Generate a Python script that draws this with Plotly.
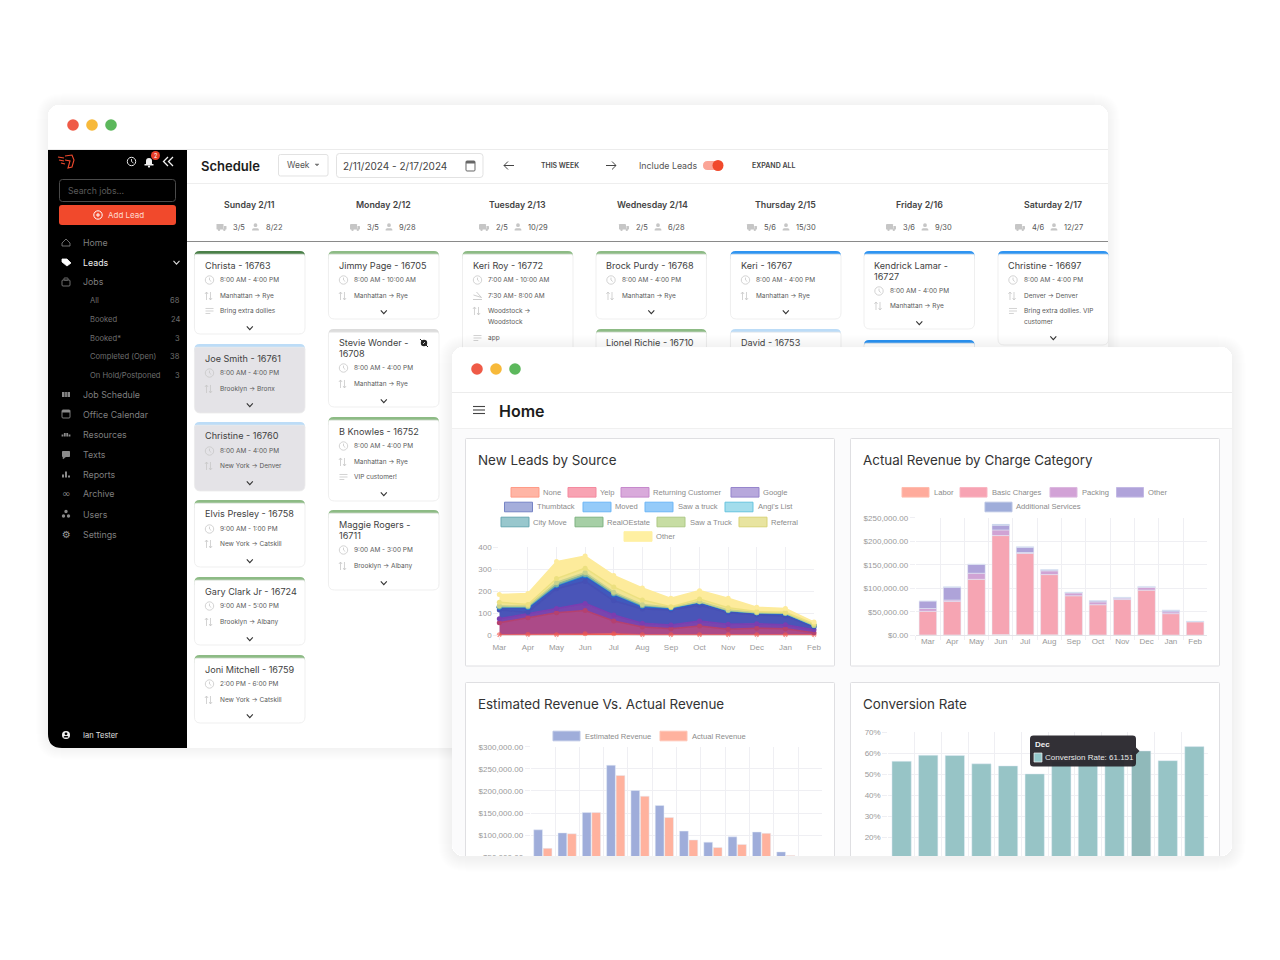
import numpy as np
import plotly.graph_objects as go

W, H = 1280, 960
UI = "Inter"
CH = "Liberation Sans"

months = ["Mar", "Apr", "May", "Jun", "Jul", "Aug", "Sep", "Oct", "Nov", "Dec", "Jan", "Feb"]

# New Leads by Source
lead_none = [2, 4, 3, 7, 7, 3, 2, 3, 2, 2, 2, 2]
lead_yelp = [55, 76, 100, 106, 58, 35, 28, 39, 26, 30, 28, 10]
lead_returning = [18, 20, 19, 32, 27, 17, 17, 23, 22, 20, 18, 13]
lead_google = [40, 5, 90, 100, 65, 65, 68, 72, 52, 40, 40, 13]
lead_thumbtack = [10, 20, 13, 23, 28, 10, 7, 11, 8, 8, 9, 4]
lead_moved = [2, 2, 2, 3, 2, 2, 1, 2, 1, 1, 1, 1]
lead_saw_truck = [1, 1, 1, 2, 1, 1, 1, 1, 1, 1, 1, 1]
lead_angis = [1, 1, 1, 2, 1, 1, 1, 1, 1, 1, 1, 1]
lead_city = [1, 1, 1, 1, 1, 1, 1, 0, 0, 0, 0, 0]
lead_realo = [1, 1, 2, 1, 1, 1, 0, 0, 0, 0, 0, 0]
lead_saw_truck2 = [3, 2, 8, 8, 5, 4, 1, 2, 2, 1, 1, 1]
lead_referral = [16, 7, 18, 20, 24, 20, 3, 11, 10, 4, 4, 6]
lead_other = [35, 50, 77, 55, 52, 55, 38, 38, 43, 20, 17, 8]

# Actual Revenue by Charge Category
rev_labor = [800, 900, 1000, 1500, 1200, 1000, 800, 700, 700, 800, 600, 400]
rev_basic = [50200, 71100, 118000, 210500, 172800, 128000, 83200, 64300, 75300, 95200, 45400, 28600]
rev_packing = [6000, 3000, 13000, 12000, 2000, 8000, 6000, 6000, 3000, 6000, 4000, 0]
rev_other = [16000, 27000, 19000, 10000, 11000, 2000, 1000, 2000, 1000, 1000, 3000, 0]
rev_additional = [0, 1000, 0, 2000, 1000, 1000, 1000, 1000, 1000, 1000, 1000, 1000]

# Estimated vs Actual Revenue
est_revenue = [112000, 105000, 151000, 258000, 201000, 167000, 109000, 84000, 96000, 107000, 62000, 40000]
act_revenue = [70000, 103000, 151000, 235000, 188000, 140000, 89000, 72000, 79000, 104000, 54000, 30000]

# Conversion Rate
conversion = [56.2, 59.1, 59.0, 55.0, 54.0, 50.2, 56.0, 58.0, 61.5, 61.151, 56.5, 63.2]

shapes = []
notes = []


def px(x):
    return x / W


def py(y):
    return 1 - y / H


def pt(x, y):
    return f"{px(x):.5f},{py(y):.5f}"


def rr(x0, y0, x1, y1, r):
    # rounded rectangle path, r = (tl, tr, br, bl) or single radius
    tl, tr, br, bl = r if isinstance(r, tuple) else (r, r, r, r)
    return (f"M{pt(x0 + tl, y0)} L{pt(x1 - tr, y0)} Q{pt(x1, y0)} {pt(x1, y0 + tr)} "
            f"L{pt(x1, y1 - br)} Q{pt(x1, y1)} {pt(x1 - br, y1)} "
            f"L{pt(x0 + bl, y1)} Q{pt(x0, y1)} {pt(x0, y1 - bl)} "
            f"L{pt(x0, y0 + tl)} Q{pt(x0, y0)} {pt(x0 + tl, y0)} Z")


def add_path(d, fill="rgba(0,0,0,0)", line=None, lw=1, layer="below", rule=None):
    s = dict(type="path", path=d, xref="paper", yref="paper", fillcolor=fill, layer=layer,
             line=dict(color=line or "rgba(0,0,0,0)", width=lw if line else 0))
    if rule:
        s["fillrule"] = rule
    shapes.append(s)


def box(x0, y0, x1, y1, r=0, fill="#ffffff", line=None, lw=1, layer="below"):
    add_path(rr(x0, y0, x1, y1, r), fill, line, lw, layer)


def poly(points, line="#333333", lw=1, fill="rgba(0,0,0,0)", close=False, layer="below"):
    d = "M" + " L".join(pt(a, b) for a, b in points) + (" Z" if close else "")
    add_path(d, fill, line, lw, layer)


def dot(x, y, r, fill="#ffffff", line=None, lw=1, layer="below"):
    shapes.append(dict(type="circle", xref="paper", yref="paper", layer=layer,
                       x0=px(x - r), x1=px(x + r), y0=py(y + r), y1=py(y - r), fillcolor=fill,
                       line=dict(color=line or "rgba(0,0,0,0)", width=lw if line else 0)))


def txt(x, y, s, size=8, color="#555555", anchor="left", weight=None, family=UI):
    notes.append(dict(x=px(x), y=py(y), xref="paper", yref="paper", text=s, showarrow=False,
                      xanchor=anchor, yanchor="middle", borderpad=0,
                      font=dict(size=size, color=color, family=family, weight=weight)))


def shadow(x0, y0, x1, y1, r, n, alpha, dy, layer):
    for k in range(1, n + 1):
        d = rr(x0 - k, y0 - k + dy, x1 + k, y1 + k + dy, r + k) + " " + rr(x0, y0, x1, y1, r)
        add_path(d, f"rgba(30,30,60,{alpha})", layer=layer, rule="evenodd")


# ---- icons
def clock(x, y):
    dot(x, y, 4.2, "rgba(0,0,0,0)", "#c8c8c8", 0.8)
    poly([(x, y - 2.4), (x, y), (x + 1.8, y + 1.6)], "#c8c8c8", 0.8)


def route(x, y):
    poly([(x - 3, y + 4), (x - 3, y - 4), (x - 4.6, y - 2)], "#c8c8c8", 0.8)
    poly([(x - 3, y - 4), (x - 1.4, y - 2)], "#c8c8c8", 0.8)
    poly([(x + 1, y - 4), (x + 1, y + 4), (x - 0.4, y + 2)], "#c8c8c8", 0.8)
    poly([(x + 1, y + 4), (x + 2.6, y + 2)], "#c8c8c8", 0.8)


def note_icon(x, y):
    for d, w in ((-2.5, 4), (0, 4), (2.5, 2.4)):
        poly([(x - 4, y + d), (x - 4 + 2 * w, y + d)], "#c8c8c8", 0.8)


def plane(x, y):
    poly([(x - 4.5, y + 3.5), (x + 4.5, y + 3.5)], "#c0c0c0", 0.8)
    poly([(x - 4, y - 1), (x + 4, y + 1.5), (x - 1, y - 4)], "#c0c0c0", 0.8)


def chevron(x, y, color="#333333"):
    poly([(x - 3, y - 1.6), (x, y + 1.6), (x + 3, y - 1.6)], color, 1.1)


def truck(x, y):
    box(x - 5, y - 3, x + 2, y + 2.4, 0.5, "#c6c6c6")
    box(x + 2.4, y - 1, x + 5, y + 2.4, 0.5, "#c6c6c6")
    dot(x - 2.5, y + 2.8, 1.2, "#c6c6c6")
    dot(x + 2.8, y + 2.8, 1.2, "#c6c6c6")


def person(x, y):
    dot(x, y - 1.8, 1.9, "#c6c6c6")
    box(x - 3.4, y + 1.2, x + 3.4, y + 3.6, (1.6, 1.6, 0, 0), "#c6c6c6")


# ---- page windows
shadow(48, 105, 1108, 748, 14, 12, 0.004, 0, "below")
box(48, 105, 1108, 748, 14, "#ffffff")
dot(73, 125, 5.8, "#ef5a47")
dot(92, 125, 5.8, "#f7b93a")
dot(111, 125, 5.8, "#5cb85c")
box(48, 149, 1108, 150, 0, "#ececec")

# ---- sidebar
box(48, 150, 187, 748, (0, 0, 0, 14), "#000000")
poly([(58, 157), (64, 158)], "#f04a2e", 1.2)
poly([(59, 160), (64, 161)], "#f04a2e", 1.2)
poly([(61, 163), (65, 164)], "#f04a2e", 1.2)
poly([(65, 156), (72, 155), (74, 160), (72, 167), (68, 168), (70, 161), (65, 160)], "#f04a2e", 1.1)
dot(131.5, 161.5, 4.2, "#000000", "#e8e8e8", 1)
poly([(131.5, 159), (131.5, 161.5), (133.5, 163)], "#e8e8e8", 0.9)
box(146, 158, 152, 165, (3, 3, 0, 0), "#f0f0f0")
box(144.5, 164, 153.5, 165.5, 0, "#f0f0f0")
dot(149, 166.6, 1.1, "#f0f0f0")
dot(155.5, 155.5, 4.5, "#e8402a")
txt(155.5, 155.5, "2", 5.5, "#ffffff", "center")
poly([(168, 157), (163.5, 161.5), (168, 166)], "#f2f2f2", 1.3)
poly([(173, 157), (168.5, 161.5), (173, 166)], "#f2f2f2", 1.3)

box(59.5, 179.5, 175.5, 201.5, 3, "#000000", "#4a4a4a", 1)
txt(66.5, 190.5, "Search jobs...", 8.7, "#5a5a5a")
box(59, 205, 176, 225, 3, "#f1492c")
dot(98, 215, 4.2, "rgba(0,0,0,0)", "#ffffff", 1)
poly([(96, 215), (100, 215)], "#ffffff", 1)
poly([(98, 213), (98, 217)], "#ffffff", 1)
txt(107, 215.3, "Add Lead", 8, "#ffd9d0")

side_items = ["Home", "Leads", "Jobs", "Job Schedule", "Office Calendar", "Resources", "Texts",
              "Reports", "Archive", "Users", "Settings"]
side_y = [242, 262, 282, 394, 414, 434, 454, 474, 494, 514, 534]
for name, y in zip(side_items, side_y):
    txt(81.7, y, name, 8.8, "#f0f0f0" if name == "Leads" else "#7f7f7f")
chevron(176.5, 262.5, "#dddddd")

sub_items = ["All", "Booked", "Booked*", "Completed (Open)", "On Hold/Postponed"]
sub_counts = ["68", "24", "3", "38", "3"]
sub_y = [301, 320, 338, 356, 375]
for name, cnt, y in zip(sub_items, sub_counts, sub_y):
    txt(89, y, name, 7.6, "#6f6f6f")
    txt(181, y, cnt, 7.5, "#6f6f6f", "right")

icon = "#8a8a8a"
poly([(62, 243), (66, 239), (70, 243), (70, 246), (62, 246)], icon, 0.8, close=True)
poly([(62, 259), (67, 259), (71, 263), (67, 266), (62, 262)], "#ffffff", 0.8, "#ffffff", close=True)
box(62, 280, 70, 286, 1, "#000000", icon, 0.8)
box(64, 278, 68, 280, 0.5, "#000000", icon, 0.8)
box(62, 392, 70, 397, 0, "#8a8a8a")
poly([(64.7, 392), (64.7, 397)], "#000000", 0.6)
poly([(67.3, 392), (67.3, 397)], "#000000", 0.6)
box(62, 410, 70, 418, 1, "#000000", icon, 0.9)
box(62, 410, 70, 412.5, 0.5, "#8a8a8a")
for cx, h in ((62.5, 2), (64.8, 3.5), (67.2, 3.5), (69.5, 2)):
    box(cx - 0.9, 436.5 - h, cx + 0.9, 436.5, 0, "#8a8a8a")
box(62, 451, 70, 457, 0.8, "#8a8a8a")
poly([(63, 457), (63, 459), (65.5, 457)], "#8a8a8a", 0.5, "#8a8a8a", close=True)
for cx, h in ((63, 3), (66, 6), (69, 2)):
    box(cx - 1, 477.5 - h, cx + 1, 477.5, 0, "#8a8a8a")
txt(66, 494, "∞", 10, icon, "center", family="DejaVu Sans")
dot(66, 511.5, 1.7, "#8a8a8a")
dot(63.5, 516, 1.7, "#8a8a8a")
dot(68.5, 516, 1.7, "#8a8a8a")
txt(66, 534, "⚙", 10, "#9a9a9a", "center", family="DejaVu Sans")
dot(66, 735, 4, "#f2f2f2")
dot(66, 733.8, 1.4, "#000000")
box(63.6, 736, 68.4, 737.6, (1.4, 1.4, 0, 0), "#000000")
txt(82, 735, "Ian Tester", 7.5, "#e0e0e0")

# ---- schedule toolbar
txt(199.7, 166, "Schedule", 13, "#1c1c1c", weight=600)
box(278.5, 154.5, 328, 176, 2, "#ffffff", "#e2e2e2", 1)
txt(286, 165, "Week", 8.5, "#555555")
poly([(315, 164), (319, 164), (317, 166)], "#777777", 0.5, "#777777", close=True)
box(336.5, 153.5, 483, 177.5, 3, "#ffffff", "#e2e2e2", 1)
txt(341.5, 166, "2/11/2024 - 2/17/2024", 10, "#444444")
box(466, 161, 475, 171, 1, "#ffffff", "#666666", 1)
box(466, 161, 475, 163.5, 0.5, "#666666")
poly([(504, 165.5), (514, 165.5)], "#444444", 1)
poly([(508, 161.5), (504, 165.5), (508, 169.5)], "#444444", 1)
txt(560, 165.5, "THIS WEEK", 6.9, "#444444", "center", 600)
poly([(606, 165.5), (616, 165.5)], "#444444", 1)
poly([(612, 161.5), (616, 165.5), (612, 169.5)], "#444444", 1)
txt(637.7, 165.5, "Include Leads", 8.8, "#555555")
box(703, 161, 720, 170, 4.5, "#fba597")
dot(718, 165.5, 5.5, "#f1492c")
txt(751, 165.5, "EXPAND ALL", 7, "#444444", weight=600)
box(187, 183, 1108, 184, 0, "#eeeeee")
box(187, 241, 1108, 242, 0, "#8a8a8a")

day_names = ["Sunday 2/11", "Monday 2/12", "Tuesday 2/13", "Wednesday 2/14", "Thursday 2/15", "Friday 2/16",
             "Saturday 2/17"]
day_trucks = ["3/5", "3/5", "2/5", "2/5", "5/6", "3/6", "4/6"]
day_people = ["8/22", "9/28", "10/29", "6/28", "15/30", "9/30", "12/27"]
day_cx = [249.5, 383, 517, 652, 785, 919, 1053]
for name, tr, pe, cx in zip(day_names, day_trucks, day_people, day_cx):
    txt(cx, 205, name, 8.8, "#444444", "center", 600)
    off = -5 if len(pe) == 5 else 0
    truck(cx - 28 + off, 227)
    txt(cx - 17.5 + off, 227, tr, 7.5, "#555555")
    person(cx + 6 + off, 227)
    txt(cx + 15 + off, 227, pe, 7.5, "#555555")

# ---- job cards
GREEN = "#8dbb85"
DARK = "#4b8049"
BLUE = "#2f94f1"
PALE = "#bcdcf7"
GRAY = "#dcdcdc"
col_x = [194.5, 328.5, 462.5, 596, 730.5, 864, 998]
CARD_W = 110.5


def card(col, y0, y1, bar, title, rows=(), chev=None, bg="#ffffff"):
    x0 = col_x[col]
    x1 = x0 + CARD_W
    box(x0, y0, x1, y0 + 8, (5, 5, 0, 0), bar)
    box(x0, y0 + 3.2, x1, y1, (2, 2, 6, 6), bg, "#ebebeb", 0.8)
    for y, s in title:
        txt(x0 + 9, y - 0.7, s, 9.1, "#3f3f3f")
    for kind, y, s in rows:
        if kind == "clock":
            clock(x0 + 15, y)
        elif kind == "route":
            route(x0 + 15, y)
        elif kind == "note":
            note_icon(x0 + 15, y)
        elif kind == "plane":
            plane(x0 + 15, y)
        txt(x0 + 24.5, y, s, 6.5, "#5a5a5a")
    if chev:
        chevron(x0 + 55.3, chev)


def rows(t0, time, r0, where, n0=None, note=None):
    out = [("clock", t0, time), ("route", r0, where)]
    if n0:
        out.append(("note", n0, note))
    return out


card(0, 251, 334, DARK, [(266, "Christa - 16763")],
     rows(280, "8:00 AM - 4:00 PM", 296, "Manhattan → Rye", 311, "Bring extra dollies"), 328)
card(0, 344, 413, PALE, [(359, "Joe Smith - 16761")],
     rows(373, "8:00 AM - 4:00 PM", 389, "Brooklyn → Bronx"), 405, "#e4e3e7")
card(0, 422, 491, PALE, [(436, "Christine - 16760")],
     rows(451, "8:00 AM - 4:00 PM", 466, "New York → Denver"), 483, "#e4e3e7")
card(0, 500, 567, GREEN, [(514, "Elvis Presley - 16758")],
     rows(529, "9:00 AM - 1:00 PM", 544, "New York → Catskill"), 561)
card(0, 577, 645, GREEN, [(592, "Gary Clark Jr - 16724")],
     rows(606, "9:00 AM - 5:00 PM", 622, "Brooklyn → Albany"), 639)
card(0, 655, 723, GREEN, [(670, "Joni Mitchell - 16759")],
     rows(684, "2:00 PM - 6:00 PM", 700, "New York → Catskill"), 716)

card(1, 251, 319, GREEN, [(266, "Jimmy Page - 16705")],
     rows(280, "8:00 AM - 10:00 AM", 296, "Manhattan → Rye"), 312)
card(1, 329, 407, GRAY, [(343, "Stevie Wonder -"), (354, "16708")],
     rows(368, "8:00 AM - 4:00 PM", 384, "Manhattan → Rye"), 401)
dot(424, 343, 3.2, "#222222")
dot(424, 343, 1.1, "#ffffff")
poly([(420, 339), (428, 347)], "#222222", 1)
card(1, 417, 501, GREEN, [(432, "B Knowles - 16752")],
     rows(446, "8:00 AM - 4:00 PM", 462, "Manhattan → Rye", 477, "VIP customer!"), 494)
card(1, 510, 590, GREEN, [(525, "Maggie Rogers -"), (536, "16711")],
     rows(550, "9:00 AM - 3:00 PM", 566, "Brooklyn → Albany"), 583)

card(2, 251, 360, GREEN, [(266, "Keri Roy - 16772")],
     [("clock", 280, "7:00 AM - 10:00 AM"), ("plane", 296, "7:30 AM- 8:00 AM"), ("route", 311, "Woodstock →"),
      ("", 322, "Woodstock"), ("note", 338, "app")])
card(3, 251, 319, GREEN, [(266, "Brock Purdy - 16768")],
     rows(280, "8:00 AM - 4:00 PM", 296, "Manhattan → Rye"), 312)
card(3, 329, 360, GREEN, [(343, "Lionel Richie - 16710")])
card(4, 251, 319, BLUE, [(266, "Keri - 16767")],
     rows(280, "8:00 AM - 4:00 PM", 296, "Manhattan → Rye"), 312)
card(4, 329, 360, PALE, [(343, "David - 16753")])
card(5, 251, 329, BLUE, [(266, "Kendrick Lamar -"), (277, "16727")],
     rows(291, "8:00 AM - 4:00 PM", 306, "Manhattan → Rye"), 323)
card(5, 340, 360, BLUE, [])
card(6, 251, 345, BLUE, [(266, "Christine - 16697")],
     [("clock", 280, "8:00 AM - 4:00 PM"), ("route", 296, "Denver → Denver"), ("note", 311, "Bring extra dollies. VIP"),
      ("", 322, "customer")], 338)

# ---- home window
box(452, 347, 1232, 900, 14, "#ffffff")
box(452, 429, 1232, 900, 0, "#fbfbfc")
dot(477, 369, 5.8, "#ef5a47")
dot(496, 369, 5.8, "#f7b93a")
dot(515, 369, 5.8, "#5cb85c")
box(452, 392, 1232, 393, 0, "#ececec")
box(452, 428, 1232, 429, 0, "#f0f0f0")
for y in (406.5, 410, 413.5):
    poly([(473, y), (485, y)], "#444444", 1.1)
txt(497.5, 410.5, "Home", 16, "#1c1c1c", weight=600)

for x0, y0, y1, title in ((465.5, 438.5, 666, "New Leads by Source"),
                          (850.5, 438.5, 666, "Actual Revenue by Charge Category"),
                          (465.5, 682.5, 900, "Estimated Revenue Vs. Actual Revenue"),
                          (850.5, 682.5, 900, "Conversion Rate")):
    box(x0, y0, x0 + 369, y1, 1, "#ffffff", "#dfdfe2", 1)
    txt(x0 + 11, y0 + 21.5, title, 13.4, "#333333")


def legend_item(x0, x1, y, fill, border, label, tx):
    box(x0, y - 4.8, x1, y + 4.8, 0, fill, border, 1)
    txt(tx, y, label, 7.6, "#8b8b8b", family=CH)


leg_names = ["None", "Yelp", "Returning Customer", "Google", "Thumbtack", "Moved", "Saw a truck", "Angi's List",
             "City Move", "RealOEstate", "Saw a Truck", "Referral", "Other"]
leg_fill = ["#ffb5a5", "#f8a3b3", "#d9aadb", "#b7a8dc", "#a5aedb", "#95cbf9", "#95cbf9", "#a3ddec", "#98c7cd",
            "#a6cfa6", "#c7dda3", "#e8e4a0", "#fff0a2"]
leg_line = ["#ff9a86", "#f4899e", "#c688cc", "#9584cc", "#7583c5", "#6cb6f6", "#6cb6f6", "#66c4de", "#66a5b0",
            "#7fb281", "#adc985", "#d8d376", "#fff0a2"]
leg_x0 = [511, 568, 621, 731, 504.5, 583, 645, 725, 501, 575, 657, 739, 624]
leg_tx = [542.3, 599.3, 652, 762, 536, 614.3, 676.7, 756.7, 532.3, 606.3, 688.7, 770, 655]
leg_y = [492.3] * 4 + [507] * 4 + [522] * 4 + [536.5]
for i, name in enumerate(leg_names):
    legend_item(leg_x0[i], leg_x0[i] + 28, leg_y[i], leg_fill[i], leg_line[i], name, leg_tx[i])

legend_item(902, 929, 492.3, "#ffab9c", "#ffbcae", "Labor", 932.7)
legend_item(960, 987, 492.3, "#f7a3b3", "#f9b6c2", "Basic Charges", 991)
legend_item(1050, 1077, 492.3, "#d2a2d6", "#dcb8df", "Packing", 1081)
legend_item(1116.5, 1143.5, 492.3, "#b0a3da", "#c3b9e4", "Other", 1147.3)
legend_item(985, 1012, 507, "#9fadda", "#b7c2e3", "Additional Services", 1015.3)
legend_item(553, 580, 736, "#9fadda", "#b7c2e3", "Estimated Revenue", 583.7)
legend_item(660, 687, 736, "#ffb29e", "#ffc4b4", "Actual Revenue", 690.7)

# ---- charts
fig = go.Figure()

band_fill = ["#ef6a5e", "#ac4a88", "#7a45ae", "#4a55b8", "#4059bd", "#2b78cc", "#2b78cc", "#3a8fc8", "#5f9fb0",
             "#89b69a", "#c9d28c", "#f1e593", "#fdeb9b"]
band_line = ["rgba(242,87,76,0.6)", "#b4416f", "#7b3db0", "#4650b5", "#3b55bb", "#1e7fd8", "#1e7fd8", "#3a8fc8",
             "#5f9fb0", "#89b69a", "#c9d28c", "#ece07f", "#fdeb9b"]
lead_series = [lead_none, lead_yelp, lead_returning, lead_google, lead_thumbtack, lead_moved, lead_saw_truck,
               lead_angis, lead_city, lead_realo, lead_saw_truck2, lead_referral, lead_other]
for i, vals in enumerate(lead_series):
    fig.add_trace(go.Scatter(x=months, y=vals, name=leg_names[i], stackgroup="leads", mode="lines+markers",
                             fillcolor=band_fill[i], line=dict(color=band_line[i], width=1.5),
                             marker=dict(size=5, color=band_line[i]), cliponaxis=False,
                             xaxis="x", yaxis="y"))

cum = np.zeros(12)
rev_names = ["Labor", "Basic Charges", "Packing", "Other", "Additional Services"]
rev_colors = ["#ffab9c", "#f6a5b3", "#d0a3d4", "#aea3d9", "#9dafdc"]
for name, vals, col in zip(rev_names, [rev_labor, rev_basic, rev_packing, rev_other, rev_additional], rev_colors):
    fig.add_trace(go.Bar(x=months, y=vals, base=cum.copy(), name=name, marker_color=col, width=0.72, offset=-0.36,
                         xaxis="x2", yaxis="y2"))
    cum += np.array(vals)

fig.add_trace(go.Bar(x=months, y=est_revenue, name="Estimated Revenue", marker_color="#9fadda",
                     width=0.36, offset=-0.375, xaxis="x3", yaxis="y3"))
fig.add_trace(go.Bar(x=months, y=act_revenue, name="Actual Revenue", marker_color="#ffb29e",
                     width=0.36, offset=0.015, xaxis="x3", yaxis="y3"))

fig.add_trace(go.Bar(x=months, y=conversion, name="Conversion Rate",
                     marker_color=["#90b9ba" if m == "Dec" else "#97c4c6" for m in months],
                     width=0.725, offset=-0.3625, xaxis="x4", yaxis="y4"))


def xaxis(a, b, anchor, boundaries=True, rng=None):
    d = dict(domain=[px(a), px(b)], anchor=anchor, type="category", showgrid=True, gridcolor="#efeff3", gridwidth=1,
             showline=False, zeroline=False, ticks="outside", ticklen=4, tickcolor="#efeff3", automargin=False,
             tickfont=dict(size=8, color="#9a9a9a", family=CH), categoryorder="array", categoryarray=months,
             tickangle=0)
    if boundaries:
        d["tickson"] = "boundaries"
        d["range"] = [-0.5, 11.5]
    else:
        d["range"] = rng
    return d


def yaxis(top, bot, anchor, rng, dtick, **kw):
    return dict(domain=[py(bot), py(top)], anchor=anchor, range=rng, dtick=dtick, showgrid=True, automargin=False,
                gridcolor="#efeff3", gridwidth=1, zeroline=True, zerolinecolor="#e4e4e8", zerolinewidth=1,
                showline=False, ticks="outside", ticklen=5, tickcolor="#efeff3",
                tickfont=dict(size=8, color="#9a9a9a", family=CH), **kw)


# window-2 mask: hides the chart bottoms and rounds the lower corners of the window
add_path(f"M{pt(440, 840)} L{pt(1244, 840)} L{pt(1244, 930)} L{pt(440, 930)} Z "
         + rr(452, 840, 1232, 856, (0, 0, 14, 14)), "#ffffff", layer="above", rule="evenodd")
shadow(452, 347, 1232, 856, 14, 14, 0.005, 2, "above")

# tooltip on the conversion chart
box(1030, 735.5, 1136, 766.5, 3.5, "rgba(42,40,46,0.96)", layer="above")
poly([(1136, 747.5), (1139.5, 751), (1136, 754.5)], None, 1, "rgba(42,40,46,0.96)", close=True, layer="above")
box(1034, 753, 1042, 762, 0, "#93c8cb", "#f0f0f0", 0.7, layer="above")
txt(1034, 744, "Dec", 8, "#f0f0f0", weight=700, family=CH)
txt(1044, 757.8, "Conversion Rate: 61.151", 8, "#e8e8e8", family=CH)

fig.update_layout(
    width=W, height=H, margin=dict(l=0, r=0, t=0, b=0, autoexpand=False), paper_bgcolor="#ffffff",
    plot_bgcolor="rgba(0,0,0,0)",
    showlegend=False, barmode="group", shapes=shapes, annotations=notes, hovermode=False,
    xaxis=xaxis(499.3, 814, "y", boundaries=False, rng=[0, 11]),
    yaxis=yaxis(547.3, 635.3, "x", [0, 400], 100),
    xaxis2=xaxis(915.7, 1207.3, "y2"),
    yaxis2=yaxis(517.7, 635.3, "x2", [0, 250000], 50000, tickformat="$,.2f"),
    xaxis3=xaxis(530.7, 822.3, "y3"),
    yaxis3=yaxis(746.7, 879.3, "x3", [0, 300000], 50000, tickformat="$,.2f"),
    xaxis4=xaxis(888.3, 1207.7, "y4"),
    yaxis4=yaxis(732.3, 879.3, "x4", [0, 70], 10, ticksuffix="%"),
)

fig.write_html("out.html", config=dict(displayModeBar=False),
               post_script="document.body.style.margin='0';document.body.style.overflow='hidden';")
